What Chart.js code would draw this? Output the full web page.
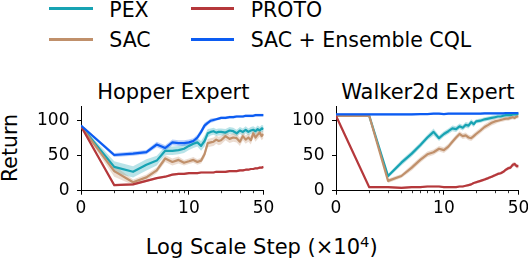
<!DOCTYPE html>
<html><head><meta charset="utf-8">
<script src="https://cdn.jsdelivr.net/npm/chart.js@4.4.0/dist/chart.umd.min.js"></script>
<style>
html,body{margin:0;padding:0;background:#fff;overflow:hidden;width:528px;height:260px;}
body{position:relative;font-family:'DejaVu Sans',sans-serif;color:#000;}
.t{position:absolute;white-space:nowrap;line-height:1;}
canvas{position:absolute;top:0;}
.sw{position:absolute;height:2.5px;width:43.5px;}
</style></head><body>

<div class="sw" id="swPEX" style="left:49.3px;top:7.1px"></div>
<div class="t" style="left:109.3px;top:-0.4px;font-size:20.5px">PEX</div>
<div class="sw" id="swSAC" style="left:49.3px;top:38.1px"></div>
<div class="t" style="left:109.3px;top:29.8px;font-size:20.5px">SAC</div>
<div class="sw" id="swPROTO" style="left:190.7px;top:7.1px"></div>
<div class="t" style="left:250.7px;top:-0.4px;font-size:20.5px">PROTO</div>
<div class="sw" id="swCQL" style="left:190.7px;top:38.1px"></div>
<div class="t" style="left:250.7px;top:29.8px;font-size:20.5px">SAC + Ensemble CQL</div>

<div class="t" style="left:173.3px;top:81.6px;font-size:21px;transform:translateX(-50%)">Hopper Expert</div>
<div class="t" style="left:427.8px;top:81.6px;font-size:21px;transform:translateX(-50%)">Walker2d Expert</div>
<div class="t" style="left:10px;top:148px;font-size:20.5px;transform:translate(-50%,-50%) rotate(-90deg)">Return</div>
<div class="t" style="left:261.7px;top:237.4px;font-size:21px;transform:translateX(-50%)">Log Scale Step (×10<sup style="font-size:0.7em;vertical-align:0.5em;line-height:0">4</sup>)</div>

<canvas id="c1" width="285" height="230" style="left:0px"></canvas>
<canvas id="c2" width="273" height="230" style="left:255px"></canvas>

<script>
// ---------------- data ----------------
const STEPS = [0,2,3,4,5,6,7,8,9,10,11,12,13,14,15,16,17,18,19,20,22,24,26,28,30,32,34,36,38,40,42,44,46,48,50];
const X_MAJOR = [0,10,50];
const X_MINOR = [2,3,4,5,6,7,8,9,20,30,40];
const Y_TICKS = [0,50,100];

// Hopper Expert
const HOP_PEX      = [92,34,27,37,43,57,57,58,60,64,67,69,64,71,82,84,85,83,84,84,83,86,85,82,86,84,87,84,86,87,85,88,86,89,88];
const HOP_PEX_SD   = [2,8,8,8,7,6,6,6,6,6,6,6,7,8,6,5,5,5,5,5,5,5,5,5,5,5,5,5,5,5,5,5,5,5,5];
const HOP_SAC      = [92,28,12,19,29,46,41,44,40,42,44,41,43,52,68,69,70,73,71,72,78,74,76,75,70,78,73,76,72,82,76,80,83,78,81];
const HOP_SAC_SD   = [2,8,4,4,4,5,5,5,4,4,4,4,4,5,6,6,6,6,6,6,6,6,6,6,6,6,6,6,6,6,6,6,6,6,6];
const HOP_PROTO    = [92,8,9,14,18,20,23,24,24,25,25,25,26,26,26,26,26,27,27,27,27,28,28,28,29,29,30,30,31,31,32,32,33,33,34];
const HOP_PROTO_SD = [1.5,1.5,1.5,1.5,1.5,1.5,1.5,1.5,1.5,1.5,1.5,1.5,1.5,1.5,1.5,1.5,1.5,1.5,1.5,1.5,1.5,1.5,1.5,1.5,1.5,1.5,1.5,1.5,1.5,1.5,1.5,1.5,1.5,1.5,1.5];
const HOP_CQL      = [93,51,53,55,66,61,69,68,68,69,71,76,84,93,97,100,101,102,103,104,104,105,105,106,106,106,107,107,107,107,108,108,108,108,108];
const HOP_CQL_SD   = [2,3,3,3,4,4,4,4,4,4,4,4,4,4,3,3,3,2,2,2,2,2,2,2,2,2,2,2,2,2,2,2,2,2,2];

// Walker2d Expert
const WAL_PEX      = [107,107,21,40,53,65,76,84,75,81,85,89,88,92,90,94,93,98,95,99,100,102,103,104,105,106,106,107,108,108,108,109,109,109,110];
const WAL_PEX_SD   = [1,1,3,4,4,4,4,5,4,4,4,4,4,4,4,4,4,4,4,3,3,3,3,3,3,3,3,3,3,3,3,3,3,3,3];
const WAL_SAC      = [107,107,14,21,33,44,52,55,60,58,63,70,76,81,78,79,76,75,78,81,86,91,94,97,99,100,101,102,103,103,104,105,104,106,106];
const WAL_SAC_SD   = [1,1,3,3,4,4,4,4,4,4,4,4,4,4,4,4,4,4,4,4,4,4,4,4,4,3,3,3,3,3,3,3,3,3,3];
const WAL_PROTO    = [107,5,5,4,5,5,6,6,6,5,5,5,5,6,6,7,8,9,11,12,14,16,18,20,22,24,25,27,30,32,33,37,38,35,35];
const WAL_PROTO_SD = [1,1.5,1.5,1.5,1.5,1.5,1.5,1.5,1.5,1.5,1.5,1.5,1.5,1.5,1.5,1.5,1.5,1.5,1.5,2,2,2,2,2,2,2,2,2,2,2.5,2.5,3,3,3,3];
const WAL_CQL      = [109,109,109,109,109,109.5,109.5,110,110,109.5,110,110,110,110,110,110,110,110,110,110,110,110.5,110.5,110.5,110.5,110.5,110.5,110.5,111,111,111,111,111,111,111];
const WAL_CQL_SD   = [1.5,1.5,1.5,1.5,1.5,1.5,1.5,1.5,1.5,1.5,1.5,1.5,1.5,1.5,1.5,1.5,1.5,1.5,1.5,1.5,1.5,1.5,1.5,1.5,1.5,1.5,1.5,1.5,1.5,1.5,1.5,1.5,1.5,1.5,1.5];

// ---------------- styles ----------------
const COLORS = { PEX:'#17a3b3', SAC:'#c0906b', PROTO:'#b5383b', CQL:'#0c5cf2' };
const FONT = 'DejaVu Sans';
Chart.defaults.font.family = FONT;
Chart.defaults.color = '#000';

for (const k of Object.keys(COLORS)) document.getElementById('sw'+k).style.background = COLORS[k];

// ---------------- symlog scale ----------------
const LINTHRESH = 1, LINSCALE = 0.01;
function tf(v){ return v <= LINTHRESH ? v / LINTHRESH * LINSCALE : LINSCALE + Math.log10(v / LINTHRESH); }
function itf(t){ return t <= LINSCALE ? t / LINSCALE * LINTHRESH : LINTHRESH * Math.pow(10, t - LINSCALE); }

class SymLogScale extends Chart.Scale {
  determineDataLimits(){ const b = this.getUserBounds(); this.min = b.min; this.max = b.max; }
  buildTicks(){ return X_MAJOR.map(v => ({value: v})); }
  getLabelForValue(v){ return String(v); }
  configure(){ super.configure(); this._s = tf(this.min); this._e = tf(this.max); }
  getPixelForValue(v){ return this.getPixelForDecimal((tf(v) - this._s) / (this._e - this._s)); }
  getValueForPixel(p){ return itf(this._s + this.getDecimalForPixel(p) * (this._e - this._s)); }
}
SymLogScale.id = 'symlog';
SymLogScale.defaults = {};
Chart.register(SymLogScale);

const minorTicks = {
  id: 'minorTicks',
  afterDraw(chart){
    const s = chart.scales.x, ctx = chart.ctx;
    ctx.save(); ctx.strokeStyle = '#000'; ctx.lineWidth = 0.8;
    X_MINOR.forEach(v => {
      const px = Math.round(s.getPixelForValue(v)) + 0.5;
      ctx.beginPath(); ctx.moveTo(px, s.top); ctx.lineTo(px, s.top + 2.5); ctx.stroke();
    });
    ctx.restore();
  }
};

function hexA(hex, a){
  const n = parseInt(hex.slice(1), 16);
  return `rgba(${(n>>16)&255},${(n>>8)&255},${n&255},${a})`;
}
function pts(vals){ return STEPS.map((x,i) => ({x, y: vals[i]})); }

function buildDatasets(series){
  const bands = [], lines = [];
  series.forEach(([key, mean, sd], i) => {
    const c = COLORS[key];
    bands.push({ data: pts(mean.map((m,j)=>m+sd[j])), borderWidth:0, pointRadius:0, fill:'+1',
                 backgroundColor: hexA(c, 0.3), order: 100 - i*2 });
    bands.push({ data: pts(mean.map((m,j)=>m-sd[j])), borderWidth:0, pointRadius:0, fill:false,
                 backgroundColor: 'rgba(0,0,0,0)', order: 100 - i*2 - 1 });
    lines.push({ data: pts(mean), borderColor: c, borderWidth: 2.2, pointRadius: 0, fill: false,
                 borderJoinStyle: 'round', order: 50 - i });
  });
  return bands.concat(lines);
}

function makeChart(id, series, padRight){
  return new Chart(document.getElementById(id), {
    type: 'line',
    data: { datasets: buildDatasets(series) },
    plugins: [minorTicks],
    options: {
      responsive: false, animation: false, devicePixelRatio: 1,
      layout: { padding: { top: 106.7, left: 0, right: padRight, bottom: 0 } },
      plugins: { legend: { display: false }, tooltip: { enabled: false }, title: { display: false } },
      elements: { line: { tension: 0 } },
      scales: {
        x: {
          type: 'symlog', min: 0, max: 50,
          afterFit: s => { s.height = 39.3; s.paddingLeft = 0; s.paddingRight = 0; },
          grid: { drawOnChartArea: false, drawTicks: true, tickLength: 4, tickColor: '#000', tickWidth: 1 },
          border: { display: true, color: '#000', width: 1 },
          ticks: { font: { size: 17 }, color: '#000', padding: 4, autoSkip: false, maxRotation: 0, minRotation: 0,
                   callback: v => String(v) }
        },
        y: {
          type: 'linear', min: 0, max: 120,
          afterBuildTicks: s => { s.ticks = Y_TICKS.map(v => ({value: v})); },
          afterFit: s => { s.width = 81; s.paddingTop = 0; s.paddingBottom = 0; },
          grid: { drawOnChartArea: false, drawTicks: true, tickLength: 4, tickColor: '#000', tickWidth: 1 },
          border: { display: true, color: '#000', width: 1 },
          ticks: { font: { size: 17 }, color: '#000', padding: 7.5 }
        }
      }
    }
  });
}

makeChart('c1', [['PEX', HOP_PEX, HOP_PEX_SD], ['SAC', HOP_SAC, HOP_SAC_SD], ['PROTO', HOP_PROTO, HOP_PROTO_SD], ['CQL', HOP_CQL, HOP_CQL_SD]], 21.4);
makeChart('c2', [['PEX', WAL_PEX, WAL_PEX_SD], ['SAC', WAL_SAC, WAL_SAC_SD], ['PROTO', WAL_PROTO, WAL_PROTO_SD], ['CQL', WAL_CQL, WAL_CQL_SD]], 9.4);
</script>
</body></html>
